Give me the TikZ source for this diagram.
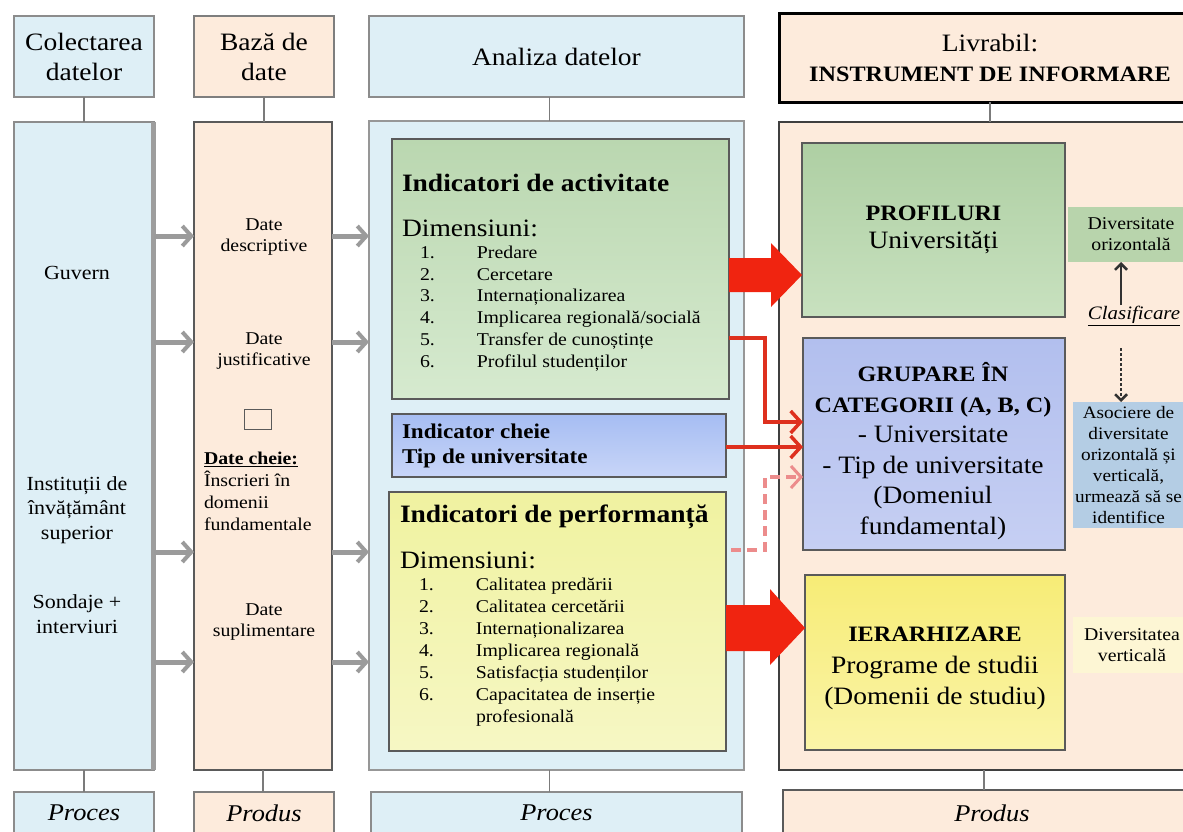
\documentclass[tikz,border=0pt]{standalone}
\usepackage{fontspec}
\setmainfont{Liberation Serif}[FakeStretch=1.1]
\usetikzlibrary{arrows.meta,calc}
\definecolor{lblue}{RGB}{222,239,246}
\definecolor{peach}{RGB}{253,235,220}
\definecolor{bordgray}{RGB}{140,140,140}
\definecolor{boxline}{RGB}{90,90,90}
\definecolor{greenA}{RGB}{186,215,176}
\definecolor{greenB}{RGB}{214,234,207}
\definecolor{blueA}{RGB}{166,189,242}
\definecolor{blueB}{RGB}{200,213,248}
\definecolor{yellowA}{RGB}{240,242,160}
\definecolor{yellowB}{RGB}{246,247,196}
\definecolor{profA}{RGB}{174,207,163}
\definecolor{profB}{RGB}{200,225,191}
\definecolor{grupA}{RGB}{178,191,238}
\definecolor{grupB}{RGB}{198,207,243}
\definecolor{ierA}{RGB}{247,236,118}
\definecolor{ierB}{RGB}{250,244,168}
\definecolor{divgreen}{RGB}{184,212,172}
\definecolor{divblue}{RGB}{180,205,228}
\definecolor{divyellow}{RGB}{253,246,212}
\definecolor{redc}{RGB}{240,36,16}
\definecolor{redthin}{RGB}{222,48,30}
\definecolor{pinkc}{RGB}{236,140,140}
\definecolor{arrgray}{RGB}{155,155,155}
\definecolor{darkarr}{RGB}{50,50,50}
\newcommand\fs[2]{\fontsize{#1pt}{#2pt}\selectfont}
\newcommand\li[2]{\makebox[57pt][l]{#1}#2}
\begin{document}
\begin{tikzpicture}[x=1pt,y=-1pt,
  every node/.style={inner sep=0pt,outer sep=0pt},
  hdrbox/.style={rectangle,line width=2pt,align=center,font=\fs{25}{30}},
  mainbox/.style={rectangle,line width=1.5pt},
  inbox/.style={rectangle,draw=boxline,line width=1.5pt},
  conn/.style={draw=boxline!80,line width=1.5pt},
  grayarr/.style={draw=arrgray,line width=5pt,-{Straight Barb[length=9pt,width=20pt,line width=4pt]}},
  redline/.style={draw=redthin,line width=4pt,-{Straight Barb[length=10pt,width=22pt,line width=3.5pt]}},
  pinkline/.style={draw=pinkc,line width=3.5pt,dash pattern=on 10pt off 6pt,-{Straight Barb[length=10pt,width=22pt,line width=3pt]}},
  blkarr/.style={draw=darkarr,line width=2.5pt,-{Straight Barb[length=6pt,width=12pt,line width=2.5pt]}},
  t20/.style={align=center,font=\fs{20}{24.5}},
  t18/.style={align=center,font=\fs{18}{21}},
  botlbl/.style={font=\fs{24}{28}\itshape}
]
\useasboundingbox (0,0) rectangle (1183,831);
\clip (0,0) rectangle (1183,831);

% ---------- headers ----------
\node[hdrbox,fill=lblue,draw=bordgray,minimum width=140pt,minimum height=81pt] (h1) at (84,56.5) {Colectarea\\datelor};
\node[hdrbox,fill=peach,draw=bordgray!90!black,minimum width=140pt,minimum height=81pt] (h2) at (264,56.5) {Bază de\\date};
\node[hdrbox,fill=lblue,draw=bordgray,minimum width=375pt,minimum height=81pt] (h3) at (556.5,56.5) {Analiza datelor};
\node[hdrbox,fill=peach,draw=black,line width=3pt,minimum width=422pt,minimum height=89pt] (h4) at (990,57.5) {Livrabil:\\\fs{22}{34}\bfseries INSTRUMENT DE INFORMARE};

% ---------- main columns ----------
\node[mainbox,fill=lblue,draw=bordgray,minimum width=140pt,minimum height=648pt] (m1) at (84,446) {};
\draw[bordgray!85,line width=5pt] ([xshift=-1pt]m1.north east) -- ([xshift=-1pt]m1.south east);
\node[mainbox,fill=peach,draw=boxline,line width=1.2pt,minimum width=138pt,minimum height=648pt] (m2) at (263,446) {};
\node[mainbox,fill=lblue,draw=bordgray!90,minimum width=375pt,minimum height=649pt] (m3) at (556.5,445.5) {};
\node[mainbox,fill=peach,draw=boxline!70!black,line width=1.2pt,minimum width=422pt,minimum height=648pt] (m4) at (990,446) {};

% ---------- bottom boxes ----------
\node[mainbox,fill=lblue,draw=bordgray,minimum width=140pt,minimum height=42pt,botlbl] (b1) at (84,813) {Proces};
\node[mainbox,fill=peach,draw=bordgray!90!black,minimum width=140pt,minimum height=42pt,botlbl] (b2) at (264,813) {Produs};
\node[mainbox,fill=lblue,draw=bordgray,minimum width=371pt,minimum height=42pt,botlbl] (b3) at (556.5,813) {Proces};
\node[mainbox,fill=peach,draw=boxline,minimum width=418pt,minimum height=46pt,botlbl] (b4) at (992,813) {Produs};

% ---------- vertical connectors ----------
\draw[conn] (h1.south) -- (h1.south |- m1.north);
\draw[conn] (h2.south) -- (h2.south |- m2.north);
\draw[conn] ([xshift=-7pt]h3.south) -- ([xshift=-7pt]h3.south |- m3.north);
\draw[conn] (h4.south) -- (h4.south |- m4.north);
\draw[conn] (m1.south) -- (m1.south |- b1.north);
\draw[conn] (m2.south) -- (m2.south |- b2.north);
\draw[conn] ([xshift=-7pt]m3.south) -- ([xshift=-7pt]m3.south |- b3.north);
\draw[conn] ([xshift=-6pt]m4.south) -- ([xshift=-6pt]m4.south |- b4.north);

% ---------- column 1 texts ----------
\node[t20] (gv) at (77,273) {Guvern};
\node[t20] (ins) at (77,510) {Instituții de\\învățământ\\superior};
\node[t20] (son) at (77,614) {Sondaje +\\interviuri};

% ---------- column 2 texts ----------
\node[t18] (dd) at (264,237) {Date\\descriptive};
\node[t18] (dj) at (264,351.5) {Date\\justificative};
\node[rectangle,draw=boxline,line width=1pt,minimum width=27pt,minimum height=20pt] (sq) at (257.5,419) {};
\node[align=left,anchor=west,font=\fs{18}{22}] (dc) at (204,491) {\textbf{\underline{Date cheie:}}\\Înscrieri în\\domenii\\fundamentale};
\node[t18] (ds) at (264,622) {Date\\suplimentare};

% ---------- column 3 inner boxes ----------
\node[inbox,top color=greenA,bottom color=greenB,minimum width=337pt,minimum height=260pt] (G) at (560.5,269) {};
\node[anchor=west,font=\fs{25}{30}\bfseries] (gt) at (402,183) {Indicatori de activitate};
\node[anchor=west,font=\fs{25}{30}] (gd) at (402,228) {Dimensiuni:};
\node[anchor=west,align=left,font=\fs{18}{21.8}] (gl) at (420,308.5) {\li{1.}{Predare}\\\li{2.}{Cercetare}\\\li{3.}{Internaționalizarea}\\\li{4.}{Implicarea regională/socială}\\\li{5.}{Transfer de cunoștințe}\\\li{6.}{Profilul studenților}};

\node[inbox,top color=blueA,bottom color=blueB,minimum width=334pt,minimum height=63pt] (B) at (559,445.5) {};
\node[anchor=west,align=left,font=\fs{21}{25}\bfseries] (bt) at (402,445.5) {Indicator cheie\\Tip de universitate};

\node[inbox,top color=yellowA,bottom color=yellowB,minimum width=337pt,minimum height=259pt] (Y) at (557.5,621.5) {};
\node[anchor=west,font=\fs{25}{30}\bfseries] (yt) at (400,517) {Indicatori de performanță};
\node[anchor=west,font=\fs{25}{30}] (yd) at (400,560) {Dimensiuni:};
\node[anchor=west,align=left,font=\fs{18}{22}] (yl) at (419,652) {\li{1.}{Calitatea predării}\\\li{2.}{Calitatea cercetării}\\\li{3.}{Internaționalizarea}\\\li{4.}{Implicarea regională}\\\li{5.}{Satisfacția studenților}\\\li{6.}{Capacitatea de inserție}\\\li{}{profesională}};

% ---------- column 4 inner boxes ----------
\node[inbox,top color=profA,bottom color=profB,minimum width=263pt,minimum height=174pt,align=center,font=\fs{25}{28}] (PROF) at (933.5,230) {{\fs{22}{28}\bfseries PROFILURI}\\Universități};
\node[inbox,top color=grupA,bottom color=grupB,minimum width=262pt,minimum height=212pt,align=center,font=\fs{25}{30.5}] (GRUP) at (934,444) {};
\node[align=center,font=\fs{25}{30.5}] (gr) at (933,451) {{\fs{22}{30.5}\bfseries GRUPARE ÎN}\\{\fs{22}{30.5}\bfseries CATEGORII (A, B, C)}\\- Universitate\\- Tip de universitate\\(Domeniul\\fundamental)};
\node[inbox,top color=ierA,bottom color=ierB,minimum width=260pt,minimum height=175pt] (IER) at (935,662.5) {};
\node[align=center,font=\fs{25}{31.5}] (ie) at (935,668.5) {{\fs{22}{31.5}\bfseries IERARHIZARE}\\Programe de studii\\(Domenii de studiu)};

% ---------- right side labels ----------
\node[rectangle,fill=divgreen,minimum width=126pt,minimum height=55pt,t18] (divo) at (1131,234.5) {Diversitate\\orizontală};
\node[rectangle,fill=divblue,minimum width=118pt,minimum height=126pt] (asoc) at (1132,465) {};
\node[align=center,font=\fs{17.5}{21}] (asoct) at (1128.5,465.5) {Asociere de\\diversitate\\orizontală și\\verticală,\\urmează să se\\identifice};
\node[rectangle,fill=divyellow,minimum width=118pt,minimum height=56pt,t18] (divv) at (1132,645) {Diversitatea\\verticală};
\node[font=\fs{19}{23}\itshape] (clas) at (1134,316) {\underline{Clasificare}};
\coordinate (cu) at (1121,305);
\draw[blkarr] (cu) -- (cu |- divo.south);
\coordinate (cd) at (1121,348);
\draw[blkarr,dash pattern=on 3pt off 2pt] (cd) -- (cd |- asoc.north);

% ---------- gray arrows ----------
\foreach \yy in {236,342,552,662} {
  \draw[grayarr] (m1.east |- 0,\yy) -- (m2.west |- 0,\yy);
  \draw[grayarr] (m2.east |- 0,\yy) -- (m3.west |- 0,\yy);
}

% ---------- red arrows ----------
\coordinate (a1) at (G.east |- 0,275);
\coordinate (e1) at (PROF.west |- 0,275);
\fill[redc] ($(a1)+(0,-17)$) -- ($(e1)+(-31,-17)$) -- ($(e1)+(-31,-32)$) -- (e1) -- ($(e1)+(-31,32)$) -- ($(e1)+(-31,17)$) -- ($(a1)+(0,17)$) -- cycle;
\coordinate (a2) at (Y.east |- 0,628);
\coordinate (e2) at (IER.west |- 0,628);
\fill[redc] ($(a2)+(0,-23)$) -- ($(e2)+(-35,-23)$) -- ($(e2)+(-35,-39)$) -- (e2) -- ($(e2)+(-35,37)$) -- ($(e2)+(-35,23)$) -- ($(a2)+(0,23)$) -- cycle;
\draw[redline] (G.east |- 0,338) -- (765,338) -- (765,422) -- (GRUP.west |- 0,422);
\draw[redline] (B.east |- 0,447) -- (GRUP.west |- 0,447);
\draw[pinkline] ([xshift=5pt]Y.east |- 0,550) -- (765,550) -- (765,477) -- (GRUP.west |- 0,477);
\end{tikzpicture}
\end{document}
